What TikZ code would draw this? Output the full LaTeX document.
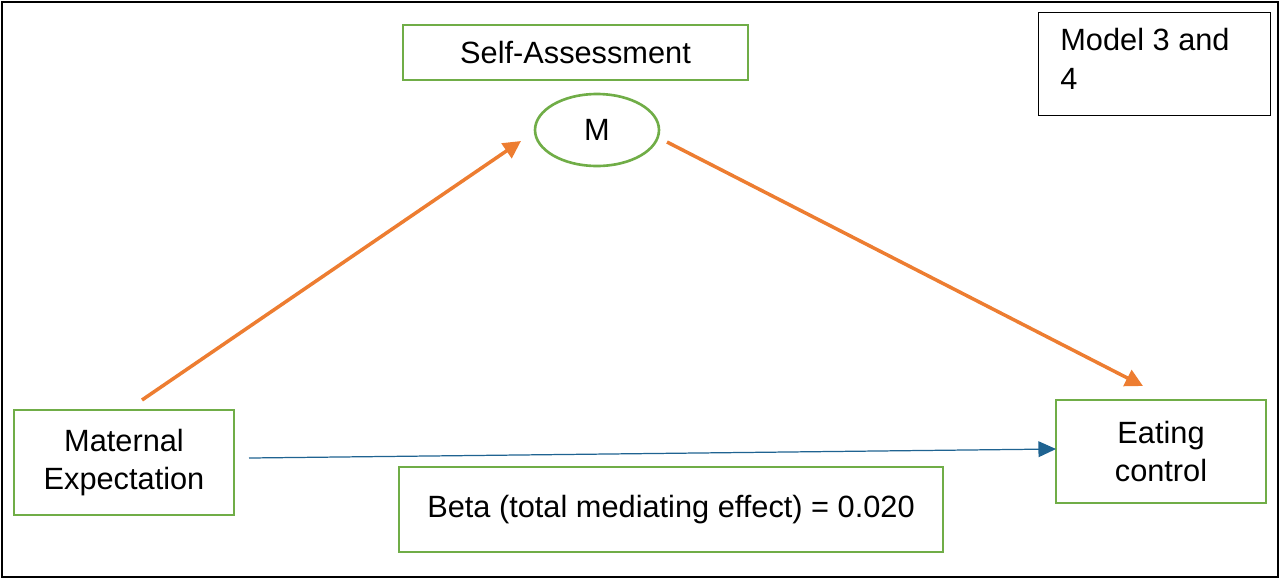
\documentclass[tikz,border=0pt]{standalone}
\usepackage{fontspec}
\setmainfont{Liberation Sans}
\usetikzlibrary{arrows.meta,shapes.geometric}
\definecolor{gr}{HTML}{70AD47}
\definecolor{org}{HTML}{ED7D31}
\definecolor{bl}{HTML}{1F6391}
\begin{document}
\begin{tikzpicture}[x=0.02cm,y=-0.02cm,
 fnt/.style={font=\fontsize{17.5}{22}\selectfont},
 box/.style={draw=gr,line width=1.5pt,inner sep=0pt,fnt,align=center},
 oarr/.style={org,line width=2pt,-{Triangle[length=10pt,width=10pt]}},
 barr/.style={bl,line width=0.7pt,-{Triangle[length=10pt,width=9pt]}}]
\useasboundingbox (0,0) rectangle (1280,579);
\draw[black,line width=0.8pt] (2,2) rectangle (1278,577);
\node[draw=black,line width=0.8pt,minimum width=4.64cm,minimum height=2.06cm,anchor=north west,inner sep=0pt] (mod) at (1038,12) {};
\node[anchor=north west,align=left,fnt,inner sep=0pt] (modt) at (1060,28) {Model 3 and\\4};
\node[box,minimum width=6.9cm,minimum height=1.1cm] (sa) at (575.5,52.5) {Self-Assessment};
\node[draw=gr,line width=1.5pt,ellipse,minimum width=2.48cm,minimum height=1.44cm,inner sep=0pt,fnt] (m) at (597,130) {M};
\node[box,minimum width=4.4cm,minimum height=2.1cm] (me) at (124,462.5) {Maternal\\Expectation};
\node[box,minimum width=4.2cm,minimum height=2.06cm] (ec) at (1161,451.5) {Eating\\control};
\node[box,minimum width=10.88cm,minimum height=1.7cm] (beta) at (671,509.5) {Beta (total mediating effect) = 0.020};
\coordinate (a1) at (142,400); \coordinate (a2) at (521,141);
\coordinate (b1) at (667,142); \coordinate (b2) at (1143,386);
\coordinate (c1) at (249,458); \coordinate (c2) at (1056,449);
\draw[oarr] (a1) -- (a2);
\draw[oarr] (b1) -- (b2);
\draw[barr] (c1) -- (c2);
\end{tikzpicture}
\end{document}
